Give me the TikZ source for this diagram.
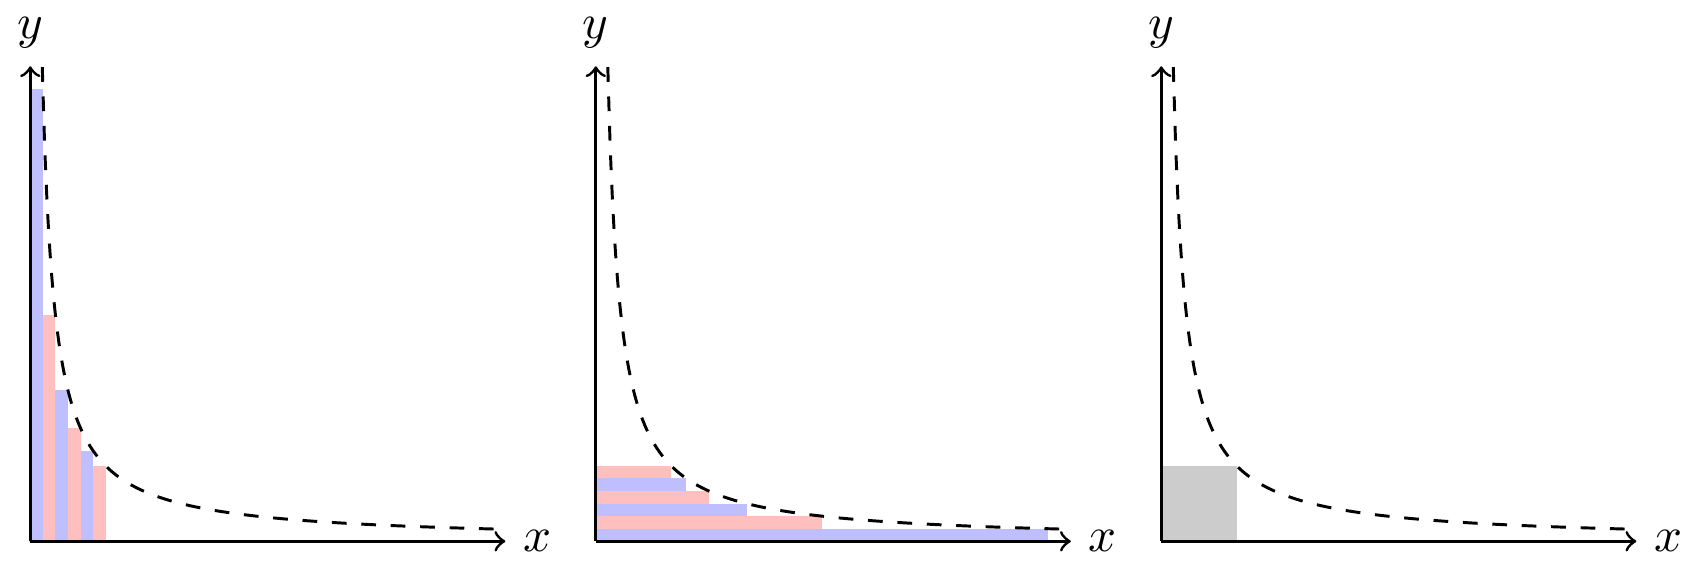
\documentclass[tikz,border=0pt]{standalone}
\usepackage{amsmath}
\usepackage{amssymb}

\begin{document}
\begin{tikzpicture}[scale=0.54,
  axis/.style={draw,semithick,->},
  hyp/.style={draw,dashed,semithick,domain=0.159:6.3,samples=200,smooth}]
\useasboundingbox (-0.402,-0.5) rectangle (22.118,7.179);
\begin{scope}
\foreach \k/\col in {1/blue,2/red,3/blue,4/red,5/blue,6/red}
  \fill[\col!25] ({(\k-1)/6},0) rectangle ({\k/6},{6/\k});
\path[hyp] plot (\x,{1/\x});
\path[axis] (0,0) -- (6.3,0) node[right] (x1) {$x$};
\path[axis] (0,0) -- (0,6.3) node[above] (y1) {$y$};
\end{scope}
\begin{scope}[shift={(7.5,0)}]
\foreach \k/\col in {1/blue,2/red,3/blue,4/red,5/blue,6/red}
  \fill[\col!25] (0,{(\k-1)/6}) rectangle ({6/\k},{\k/6});
\path[hyp] plot (\x,{1/\x});
\path[axis] (0,0) -- (6.3,0) node[right] (x2) {$x$};
\path[axis] (0,0) -- (0,6.3) node[above] (y2) {$y$};
\end{scope}
\begin{scope}[shift={(15,0)}]
\fill[black!20] (0,0) rectangle (1,1);
\path[hyp] plot (\x,{1/\x});
\path[axis] (0,0) -- (6.3,0) node[right] (x3) {$x$};
\path[axis] (0,0) -- (0,6.3) node[above] (y3) {$y$};
\end{scope}
\end{tikzpicture}
\end{document}
